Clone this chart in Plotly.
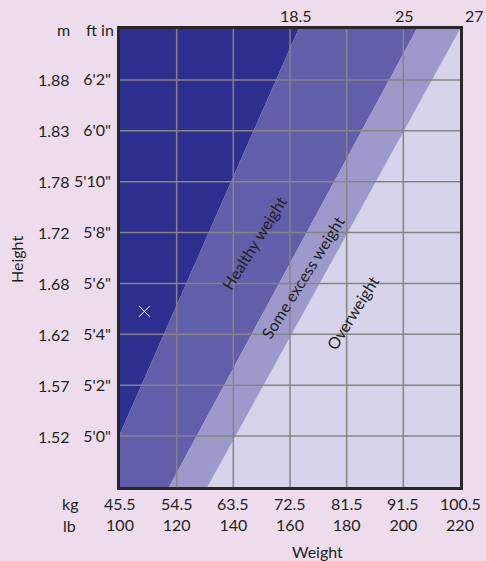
import plotly.graph_objects as go

# ---- data ----
lb_ticks = [100, 120, 140, 160, 180, 200, 220]
kg_labels = ["45.5", "54.5", "63.5", "72.5", "81.5", "91.5", "100.5"]
in_ticks = [60, 62, 64, 66, 68, 70, 72, 74]
ftin_labels = ["5'0\"", "5'2\"", "5'4\"", "5'6\"", "5'8\"", "5'10\"", "6'0\"", "6'2\""]
m_labels = ["1.52", "1.57", "1.62", "1.68", "1.72", "1.78", "1.83", "1.88"]

height_min, height_max = 58, 76
weight_min, weight_max = 100, 220

# boundary lines (weight in lb at bottom height 58in and at top height 76in)
bmi_labels = ["18.5", "25", "27"]
bmi_lb_bottom = [91.7, 117.3, 130.8]
bmi_lb_top = [163.0, 204.7, 220.0]

zone_names = ["Healthy weight", "Some excess weight", "Overweight"]
zone_label_lb = [147.4, 164.3, 182.1]
zone_label_in = [67.6, 66.25, 64.85]

marker_lb = [108.6]
marker_in = [64.9]

# ---- style ----
BG = "#EDDDEC"
C_DARK = "#2E2E8E"
C_MED = "#615EAA"
C_LMED = "#9E99CB"
C_LIGHT = "#D6D3EA"
GRID = "#858585"
TXT = "#231F20"
FONT = "Lato"
FS = 16

fig = go.Figure()

lo, hi = height_min, height_max
b1, b2, b3 = bmi_lb_bottom
t1, t2, t3 = bmi_lb_top

# dark zone: left of first line
fig.add_trace(go.Scatter(x=[b1, t1, weight_min - 20, weight_min - 20, b1],
                         y=[lo, hi, hi, lo, lo], fill="toself", fillcolor=C_DARK,
                         line=dict(width=0), mode="lines", hoverinfo="skip", showlegend=False))
# medium zone: between first and second lines
fig.add_trace(go.Scatter(x=[b1, t1, t2, b2, b1], y=[lo, hi, hi, lo, lo], fill="toself",
                         fillcolor=C_MED, line=dict(width=0), mode="lines",
                         hoverinfo="skip", showlegend=False))
# light-medium zone: between second and third lines
fig.add_trace(go.Scatter(x=[b2, t2, t3, b3, b2], y=[lo, hi, hi, lo, lo], fill="toself",
                         fillcolor=C_LMED, line=dict(width=0), mode="lines",
                         hoverinfo="skip", showlegend=False))

# marker
fig.add_trace(go.Scatter(x=marker_lb, y=marker_in, mode="markers",
                         marker=dict(symbol="x-thin", size=11, line=dict(color="white", width=1)),
                         hoverinfo="skip", showlegend=False))

# gridlines above fills
shapes = []
for v in lb_ticks[1:-1]:
    shapes.append(dict(type="line", xref="x", yref="y", x0=v, x1=v, y0=lo, y1=hi,
                       line=dict(color=GRID, width=1.5), layer="above"))
for v in in_ticks:
    shapes.append(dict(type="line", xref="x", yref="y", x0=weight_min, x1=weight_max, y0=v, y1=v,
                       line=dict(color=GRID, width=1.5), layer="above"))


def f():
    return dict(size=FS, color=TXT, family=FONT)


ann = []
for lab, v in zip(m_labels, in_ticks):
    ann.append(dict(x=0, xref="paper", y=v, yref="y", text=lab, showarrow=False,
                    xanchor="right", xshift=-48, font=f()))
for lab, v in zip(kg_labels, lb_ticks):
    ann.append(dict(x=v, xref="x", y=0, yref="paper", text=lab, showarrow=False,
                    yanchor="middle", yshift=-16, font=f()))
top_shift = [-3, -12, 14]
for lab, v, s in zip(bmi_labels, bmi_lb_top, top_shift):
    ann.append(dict(x=v, xref="x", y=1, yref="paper", text=lab, showarrow=False,
                    yanchor="middle", yshift=14, xshift=s, font=f()))
for name, x, y in zip(zone_names, zone_label_lb, zone_label_in):
    ann.append(dict(x=x, y=y, xref="x", yref="y", text=name, showarrow=False, textangle=-58,
                    font=f()))

ann += [
    dict(x=0, xref="paper", y=1, yref="paper", text="m", showarrow=False, xanchor="right",
         yanchor="middle", xshift=-48, font=f()),
    dict(x=0, xref="paper", y=1, yref="paper", text="ft in", showarrow=False, xanchor="right",
         yanchor="middle", xshift=-4, font=f()),
    dict(x=0, xref="paper", y=0, yref="paper", text="kg", showarrow=False, xanchor="center",
         yanchor="middle", xshift=-50, yshift=-16, font=f()),
    dict(x=0, xref="paper", y=0, yref="paper", text="lb", showarrow=False, xanchor="center",
         yanchor="middle", xshift=-51, yshift=-38, font=f()),
    dict(x=0.5, xref="paper", y=0, yref="paper", text="Weight", showarrow=False,
         xanchor="center", yanchor="middle", xshift=27, yshift=-64, font=f()),
    dict(x=0, xref="paper", y=0.5, yref="paper", text="Height", showarrow=False,
         xanchor="center", yanchor="middle", xshift=-104, yshift=-2, textangle=-90, font=f()),
]

fig.update_layout(
    width=486, height=561,
    margin=dict(l=120, r=19, t=29, b=74),
    paper_bgcolor=BG, plot_bgcolor=C_LIGHT,
    shapes=shapes, annotations=ann,
    font=dict(family=FONT, size=FS, color=TXT),
    xaxis=dict(range=[weight_min, weight_max], tickvals=lb_ticks,
               ticktext=[str(v) for v in lb_ticks], showgrid=False, zeroline=False,
               showline=True, linecolor="#2A2627", linewidth=2.5, mirror=True,
               ticks="", ticklabelstandoff=22, layer="above traces", fixedrange=True),
    yaxis=dict(range=[height_min, height_max], tickvals=in_ticks, ticktext=ftin_labels,
               showgrid=False, zeroline=False, showline=True, linecolor="#2A2627",
               linewidth=2.5, mirror=True, ticks="", ticklabelstandoff=3,
               layer="above traces", fixedrange=True),
)

fig.write_html("out.html", config={"displayModeBar": False},
               post_script="document.body.style.margin='0';document.body.style.overflow='hidden';")
